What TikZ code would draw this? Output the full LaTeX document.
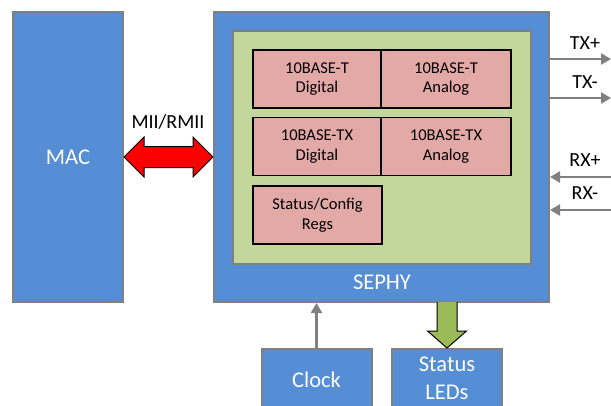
\documentclass[tikz,border=0pt]{standalone}
\usepackage{fontspec}
\setmainfont{Carlito}
\usetikzlibrary{arrows.meta,calc}
\definecolor{blueF}{RGB}{85,142,213}
\definecolor{grayB}{RGB}{128,128,128}
\definecolor{greenF}{RGB}{195,214,155}
\definecolor{pinkF}{RGB}{227,169,166}
\definecolor{arrowG}{RGB}{155,187,89}
\begin{document}
\begin{tikzpicture}[x=1pt,y=-1pt,
  bluebox/.style={draw=grayB, line width=2pt, fill=blueF, text=white, inner sep=0pt, font=\fontsize{22.5}{28}\selectfont, align=center},
  greenbox/.style={draw=grayB, line width=2pt, fill=greenF, inner sep=0pt},
  pinkbox/.style={draw=black, line width=1.3pt, fill=pinkF, font=\fontsize{16.5}{19.5}\selectfont, align=center, inner sep=0pt, minimum height=58},
  sig/.style={draw=grayB, line width=2.5pt, -{Triangle[length=10pt,width=11pt]}},
  siglabel/.style={font=\fontsize{20}{22}\selectfont, inner sep=0pt}]
\useasboundingbox (0,0) rectangle (611,405);
\clip (0,0) rectangle (611,405);
\fill[white] (0,0) rectangle (611,405);

% MAC
\node[bluebox, minimum width=110, minimum height=290] (mac) at (68,157) {MAC};

% SEPHY
\node[bluebox, minimum width=335, minimum height=290] (sephy) at (381.5,157) {};
\node[greenbox, minimum width=298, minimum height=233] (core) at (382,147.5) {};
\node[text=white, font=\fontsize{22.5}{28}\selectfont, inner sep=0pt] (sephylabel) at (382,282) {SEPHY};

% pink blocks
\node[pinkbox, minimum width=128] (td) at (317,79) {10BASE-T\\Digital};
\node[pinkbox, minimum width=130] (ta) at (446,79) {10BASE-T\\Analog};
\node[pinkbox, minimum width=128] (txd) at (317,146.5) {10BASE-TX\\Digital};
\node[pinkbox, minimum width=130] (txa) at (446,146.5) {10BASE-TX\\Analog};
\node[pinkbox, minimum width=129] (regs) at (317.5,215) {Status/Config\\Regs};

% bottom boxes
\node[bluebox, minimum width=110, minimum height=62] (clock) at (316.5,380) {Clock};
\node[bluebox, minimum width=110, minimum height=62] (leds) at (447,380) {};
\node[text=white, font=\fontsize{22.5}{28}\selectfont, align=center, inner sep=0pt] (ledslabel) at (447,378.5) {Status\\LEDs};

% MII/RMII double arrow
\node[siglabel] (mii) at (168,122) {MII/RMII};
\draw[draw=black, line width=1pt, fill=red]
  (mac.east) -- ($(mac.east)+(20,-20)$) -- ($(mac.east)+(20,-10.5)$)
  -- ($(sephy.west)+(-20,-10.5)$) -- ($(sephy.west)+(-20,-20)$) -- (sephy.west)
  -- ($(sephy.west)+(-20,20)$) -- ($(sephy.west)+(-20,10.5)$)
  -- ($(mac.east)+(20,10.5)$) -- ($(mac.east)+(20,20)$) -- cycle;

% Clock arrow
\draw[sig] (clock.north) -- (clock.north |- sephy.south);

% LED arrow
\coordinate (ledtop) at (sephy.south -| leds.north);
\fill[arrowG] ($(ledtop)+(-10,-1)$) -- ($(ledtop)+(-10,28)$) -- ($(ledtop)+(-19.5,28)$)
  -- (leds.north) -- ($(ledtop)+(19.5,28)$) -- ($(ledtop)+(10,28)$) -- ($(ledtop)+(10,-1)$) -- cycle;
\draw[black, line width=1pt, line join=miter] ($(ledtop)+(-10,-1)$) -- ($(ledtop)+(-10,28)$) -- ($(ledtop)+(-19.5,28)$)
  -- (leds.north) -- ($(ledtop)+(19.5,28)$) -- ($(ledtop)+(10,28)$) -- ($(ledtop)+(10,-1)$);

% line signals
\coordinate (txp) at (611,59);
\coordinate (txm) at (611,98);
\coordinate (rxp) at (613,177);
\coordinate (rxm) at (613,210);
\draw[sig] (sephy.east |- txp) -- (txp);
\draw[sig] (sephy.east |- txm) -- (txm);
\draw[sig] (rxp) -- (sephy.east |- rxp);
\draw[sig] (rxm) -- (sephy.east |- rxm);
\node[siglabel] (txpl) at (585,43) {TX+};
\node[siglabel] (txml) at (585,82) {TX-};
\node[siglabel] (rxpl) at (585,160) {RX+};
\node[siglabel] (rxml) at (585,193) {RX-};
\end{tikzpicture}
\end{document}
